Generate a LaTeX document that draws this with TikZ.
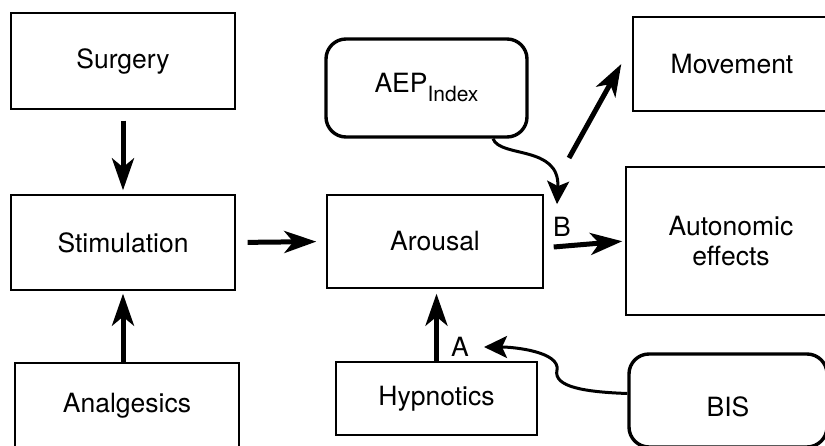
\documentclass[tikz,border=0pt]{standalone}
\usepackage{fontspec}
\setmainfont{TeX Gyre Heros}
\usetikzlibrary{arrows.meta}
\tikzset{
  box/.style={draw, line width=1.4pt, rectangle, inner sep=0pt, align=center},
  rbox/.style={draw, line width=3.4pt, rectangle, rounded corners=20pt, inner sep=0pt, align=center},
  bigarrow/.style={line width=5pt, -{Stealth[length=32pt,width=22pt,inset=9pt]}},
  curvearrow/.style={line width=3pt, -{Stealth[length=23pt,width=22pt,inset=5pt]}},
  lbl/.style={inner sep=0pt}
}
\begin{document}
\begin{tikzpicture}[x=1pt,y=-1pt,font=\fontsize{26.5}{30}\selectfont]
\useasboundingbox (0,0) rectangle (825,446);
\clip (0,0) rectangle (825,446);
% boxes
\node[box, minimum width=224pt, minimum height=96pt] (surg) at (123,61) {Surgery};
\node[box, minimum width=224pt, minimum height=95pt] (stim) at (123,242.5) {Stimulation};
\node[box, minimum width=224pt, minimum height=86pt] (analg) at (127,406) {Analgesics};
\node[box, minimum width=216pt, minimum height=93pt] (arousal) at (435,241.5) {Arousal};
\node[box, minimum width=201pt, minimum height=73pt] (hyp) at (436.5,398.5) {Hypnotics};
\node[rbox, minimum width=201pt, minimum height=98pt] (aep) at (426.5,88) {AEP\raisebox{-9pt}{\fontsize{21}{21}\selectfont Index}};
\node[box, minimum width=198pt, minimum height=94pt] (mov) at (732,64) {Movement};
\node[box, minimum width=210pt, minimum height=148pt] (auto) at (731,241) {Autonomic\\effects};
\node[rbox, minimum width=198pt, minimum height=93pt] (bis) at (728,400.5) {\raisebox{-6pt}[\height][\depth]{BIS}};
% labels
\node[lbl] (labA) at (460,347) {A};
\node[lbl] (labB) at (562,227) {B};
\coordinate (movstart) at (569,158);
% arrows
\draw[bigarrow, shorten <=11pt, shorten >=4pt] (surg) -- (stim);
\draw[bigarrow, shorten >=3pt] (analg.north -| stim.south) -- (stim.south);
\draw[bigarrow, shorten <=12pt, shorten >=10pt] (stim.east) -- (arousal.west);
\draw[bigarrow, shorten >=5pt] (hyp.north) -- (hyp.north |- arousal.south);
\draw[bigarrow, shorten >=3pt] ([xshift=10pt,yshift=-5.5pt]arousal.east) -- (auto.west);
\draw[bigarrow] (movstart) -- ([xshift=-11pt]mov.west);
% curved connectors
\draw[curvearrow] ([xshift=66.5pt]aep.south) .. controls (500,158) and (560,145) .. ([xshift=-5pt,yshift=13pt]labB.north);
\draw[curvearrow] ([yshift=7pt]bis.west) .. controls (585,392) and (553,387) .. (557,370)
  .. controls (560,352) and (515,347) .. ([xshift=15pt]labA.east);
\end{tikzpicture}
\end{document}
